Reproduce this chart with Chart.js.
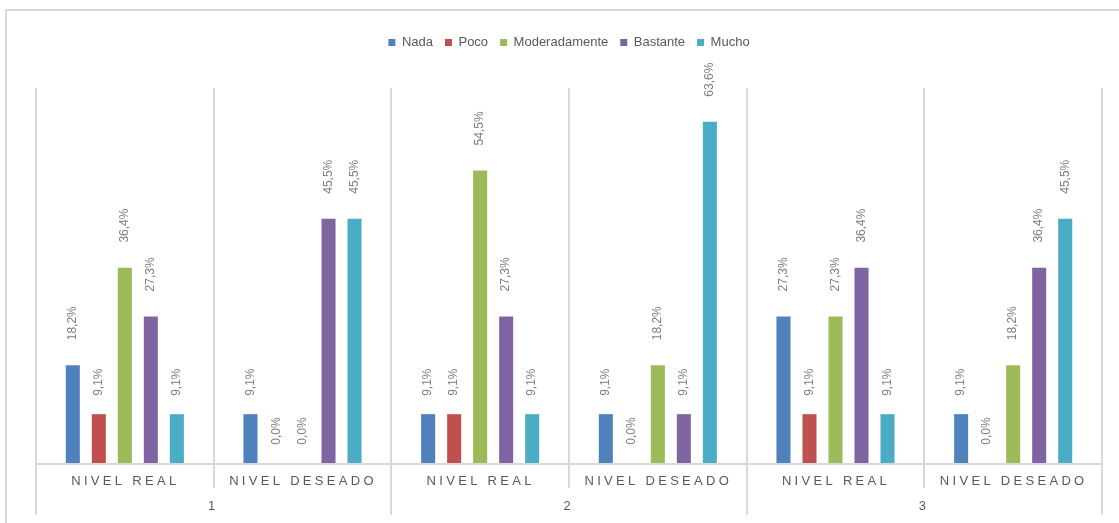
<!DOCTYPE html>
<html>
<head>
<meta charset="utf-8">
<script src="https://cdn.jsdelivr.net/npm/chart.js@4.4.1/dist/chart.umd.min.js"></script>
<style>
  html, body { margin: 0; padding: 0; background: #ffffff; }
  #wrap { width: 1119px; height: 523px; position: relative; }
</style>
</head>
<body>
<div id="wrap"><canvas id="c" width="1119" height="523"></canvas></div>
<script>
// ---- data ----
const categories = ['NIVEL REAL', 'NIVEL DESEADO', 'NIVEL REAL', 'NIVEL DESEADO', 'NIVEL REAL', 'NIVEL DESEADO'];
const groups = ['1', '2', '3'];
const seriesNames = ['Nada', 'Poco', 'Moderadamente', 'Bastante', 'Mucho'];
const nada          = [18.2,  9.1,  9.1,  9.1, 27.3,  9.1];
const poco          = [ 9.1,  0.0,  9.1,  0.0,  9.1,  0.0];
const moderadamente = [36.4,  0.0, 54.5, 18.2, 27.3, 18.2];
const bastante      = [27.3, 45.5, 27.3,  9.1, 36.4, 36.4];
const mucho         = [ 9.1, 45.5,  9.1, 63.6,  9.1, 45.5];
const colors = ['#4f81bd', '#c0504d', '#9bbb59', '#8064a2', '#4bacc6'];

const seriesValues = [nada, poco, moderadamente, bastante, mucho];
const FONT = '"Liberation Sans", Arial, sans-serif';
const GRID = '#d9d9d9';

const fmt = v => v.toFixed(1).replace('.', ',') + '%';

const legendGap = {
  id: 'legendGap',
  beforeInit(chart) {
    const lg = chart.legend;
    const origFit = lg.fit;
    lg.fit = function () {
      origFit.call(this);
      this.height += 31;
    };
  }
};

const decor = {
  id: 'decor',
  beforeDraw(chart) {
    const ctx = chart.ctx;
    ctx.save();
    ctx.strokeStyle = GRID;
    ctx.lineWidth = 2;
    ctx.strokeRect(6, 10, 1130, 530);
    ctx.restore();
  },
  beforeDatasetsDraw(chart) {
    const ctx = chart.ctx;
    const x = chart.scales.x;
    const area = chart.chartArea;
    const n = categories.length;
    const w = (area.right - area.left) / n;
    ctx.save();
    ctx.strokeStyle = GRID;
    ctx.lineWidth = 2;
    for (let i = 0; i <= n; i++) {
      const xx = i === n ? Math.round(x.getPixelForValue(n - 1) + w / 2)
                         : Math.round(x.getPixelForValue(i) - w / 2);
      const bottom = (i % 2 === 0) ? area.bottom + 52 : area.bottom + 25;
      ctx.beginPath();
      ctx.moveTo(xx, area.top - 2);
      ctx.lineTo(xx, bottom);
      ctx.stroke();
    }
    ctx.beginPath();
    ctx.moveTo(area.left, area.bottom + 1);
    ctx.lineTo(area.right, area.bottom + 1);
    ctx.stroke();
    ctx.restore();
  },
  afterDatasetsDraw(chart) {
    const ctx = chart.ctx;
    const x = chart.scales.x;
    const area = chart.chartArea;
    ctx.save();
    // value labels
    ctx.font = '12px ' + FONT;
    ctx.fillStyle = '#7f7f7f';
    ctx.textBaseline = 'middle';
    ctx.textAlign = 'left';
    chart.data.datasets.forEach((ds, di) => {
      const meta = chart.getDatasetMeta(di);
      meta.data.forEach((bar, i) => {
        const t = fmt(ds.data[i]);
        const tw = ctx.measureText(t).width;
        const gap = Math.max(14, tw - 9);
        ctx.save();
        ctx.translate(bar.x, bar.y - gap);
        ctx.rotate(-Math.PI / 2);
        ctx.fillText(t, 0, 0);
        ctx.restore();
      });
    });
    // category labels
    ctx.font = '13px ' + FONT;
    ctx.fillStyle = '#595959';
    ctx.textAlign = 'center';
    ctx.letterSpacing = '3.3px';
    categories.forEach((c, i) => {
      ctx.fillText(c, x.getPixelForValue(i) + 0.5, area.bottom + 18);
    });
    ctx.letterSpacing = '0px';
    groups.forEach((g, gi) => {
      const px = (x.getPixelForValue(gi * 2) + x.getPixelForValue(gi * 2 + 1)) / 2;
      ctx.fillText(g, px - 2, area.bottom + 43);
    });
    ctx.restore();
  }
};

new Chart(document.getElementById('c'), {
  type: 'bar',
  data: {
    labels: categories,
    datasets: seriesNames.map((name, i) => ({
      label: name,
      data: seriesValues[i],
      backgroundColor: colors[i],
      borderWidth: 0,
      barPercentage: 0.54,
      categoryPercentage: 0.732
    }))
  },
  options: {
    responsive: false,
    animation: false,
    layout: { padding: { left: 36, right: 17, top: 24, bottom: 60 } },
    scales: {
      x: { display: false, offset: true },
      y: { display: false, min: 0, max: 69.5 }
    },
    plugins: {
      tooltip: { enabled: false },
      legend: {
        position: 'top',
        labels: {
          boxWidth: 7,
          boxHeight: 7,
          padding: 12,
          color: '#595959',
          font: { family: FONT, size: 13 }
        }
      }
    }
  },
  plugins: [legendGap, decor]
});
</script>
</body>
</html>
